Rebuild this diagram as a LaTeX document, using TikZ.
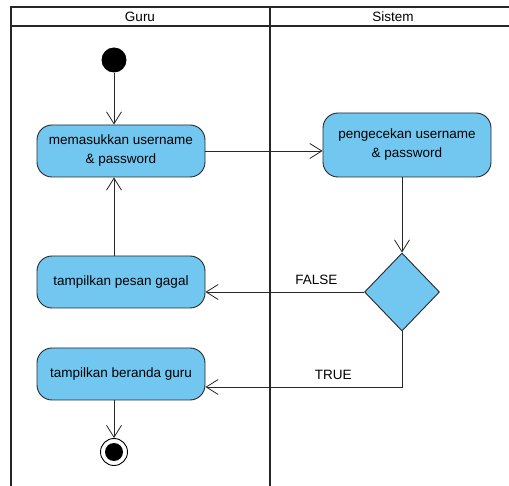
\documentclass[tikz,border=0pt]{standalone}
\usepackage{fontspec}
\setmainfont{Liberation Sans}
\usetikzlibrary{shapes.geometric,arrows.meta}
\definecolor{aktif}{RGB}{114,199,241}
\definecolor{garis}{RGB}{40,40,40}
\tikzset{
  aksi/.style={draw=garis, line width=0.9pt, fill=aktif, rounded corners=15pt, minimum width=168pt, minimum height=52pt, align=center, inner sep=2pt},
  alur/.style={draw=garis, line width=0.8pt, -{Straight Barb[length=12pt,width=15pt]}},
  lajur/.style={draw=black!85, line width=2.2pt},
}
\begin{document}
\begin{tikzpicture}[x=1pt,y=-1pt,font=\fontsize{13.5}{19}\selectfont]
\useasboundingbox (0,0) rectangle (509,486);
\fill[white] (0,0) rectangle (509,486);
\draw[lajur] (11,490) -- (11,7) -- (512,7);
\draw[lajur] (11,26) -- (512,26);
\draw[lajur] (270,7) -- (270,490);
\node (guru) at (140,17) {Guru};
\node (sistem) at (393,17) {Sistem};
\node[circle, fill=black, minimum size=25pt, inner sep=0] (mulai) at (114,60) {};
\node[aksi] (masuk) at (121,151) {memasukkan username\\\& password};
\node[aksi, minimum height=64pt] (cek) at (407,145) {pengecekan username\\\& password};
\node[aksi] (gagal) at (121,282) {tampilkan pesan gagal};
\node[diamond, draw=garis, line width=0.9pt, fill=aktif, minimum width=75pt, minimum height=78pt, inner sep=0] (pilih) at (402,292) {};
\node[aksi] (beranda) at (121,374) {tampilkan beranda guru};
\node[circle, draw=black, line width=0.9pt, minimum size=27pt, inner sep=0] (akhir) at (114,452) {};
\node[circle, fill=black, minimum size=18pt, inner sep=0] (akhirisi) at (akhir) {};
\coordinate (belok) at (402,387);
\draw[alur] (mulai) -- (mulai |- masuk.north);
\draw[alur] (masuk.east) -- (masuk.east -| cek.west);
\draw[alur] (pilih.north |- cek.south) -- (pilih.north);
\draw[alur] (pilih.west) -- node[above=4pt, pos=0.3] {FALSE} (pilih.west -| gagal.east);
\draw[alur] (gagal.north -| mulai) -- (masuk.south -| mulai);
\draw[alur] (pilih.south) -- (belok) -- node[above=4pt, pos=0.35] {TRUE} (belok -| beranda.east);
\draw[alur] (beranda.south -| mulai) -- (akhir.north);
\end{tikzpicture}
\end{document}
